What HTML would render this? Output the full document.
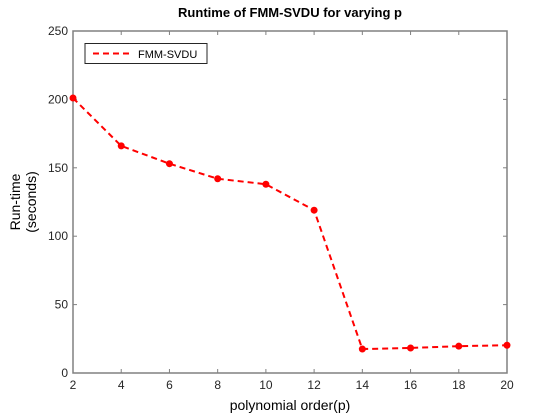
<!DOCTYPE html>
<html><head><meta charset="utf-8"><style>
body{margin:0;background:#fff;}
svg{display:block;font-family:"Liberation Sans",Arial,sans-serif;}
</style></head><body>
<svg id="chart" width="560" height="420">
<rect x="0" y="0" width="560" height="420" fill="#fff"/>
<rect x="73" y="31" width="434" height="342" fill="#fff"/>
<g id="axes"></g>
<g id="series"></g>
<text x="290" y="17" text-anchor="middle" font-size="13" font-weight="bold">Runtime of FMM-SVDU for varying p</text>
<text x="290" y="410" text-anchor="middle" font-size="14">polynomial order(p)</text>
<g transform="translate(0,202) rotate(-90)">
<text x="0" y="20" text-anchor="middle" font-size="14">Run-time</text>
<text x="0" y="36" text-anchor="middle" font-size="14">(seconds)</text>
</g>
<g>
<rect x="85" y="43.5" width="122" height="20" fill="#fff" stroke="#262626" stroke-width="1"/>
<line x1="93" y1="53.5" x2="133" y2="53.5" stroke="#f00" stroke-width="2" stroke-dasharray="6,4"/>
<text x="138" y="58" font-size="11">FMM-SVDU</text>
</g>
</svg>
<script>
const categories=[2,4,6,8,10,12,14,16,18,20];
const runtimes=[201,166,153,142,138,119,17.5,18.3,19.6,20.3];
const xTicks=[2,4,6,8,10,12,14,16,18,20];
const yTicks=[0,50,100,150,200,250];
const L=73,R=507,T=31,B=373;
const xs=v=>L+(v-2)/(20-2)*(R-L);
const ys=v=>B-v/250*(B-T);
const NS="http://www.w3.org/2000/svg";
const ax=document.getElementById('axes');
function mk(t,a,p){const e=document.createElementNS(NS,t);for(const k in a)e.setAttribute(k,a[k]);p.appendChild(e);return e;}
mk('rect',{x:L,y:T,width:R-L,height:B-T,fill:'none',stroke:'#808080','stroke-width':1.5},ax);
xTicks.forEach(v=>{const x=xs(v);
mk('line',{x1:x,y1:B,x2:x,y2:B-4,stroke:'#808080'},ax);
mk('line',{x1:x,y1:T,x2:x,y2:T+4,stroke:'#808080'},ax);
const t=mk('text',{x:x,y:B+16,'text-anchor':'middle','font-size':12,fill:'#262626'},ax);t.textContent=v;

});
yTicks.forEach(v=>{const y=ys(v);
mk('line',{x1:L,y1:y,x2:L+4,y2:y,stroke:'#808080'},ax);
mk('line',{x1:R,y1:y,x2:R-4,y2:y,stroke:'#808080'},ax);
const t=mk('text',{x:L-5,y:y+4,'text-anchor':'end','font-size':12,fill:'#262626'},ax);t.textContent=v;

});
const s=document.getElementById('series');
const pl=mk('polyline',{points:categories.map((c,i)=>xs(c)+','+ys(runtimes[i])).join(' '),fill:'none',stroke:'#f00','stroke-width':2,'stroke-dasharray':'6,4'},s);


categories.forEach((c,i)=>{const p=mk('circle',{cx:xs(c),cy:ys(runtimes[i]),r:3.5,fill:'#f00'},s);

});
</script>
</body></html>
